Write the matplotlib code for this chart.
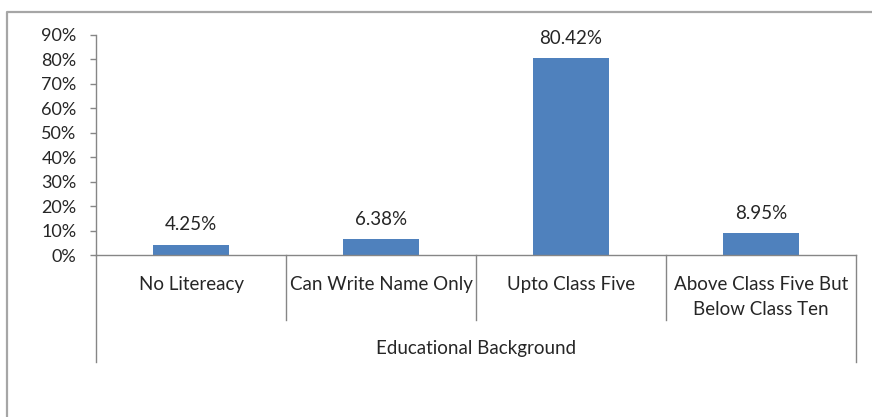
import matplotlib
matplotlib.use("Agg")
import matplotlib.pyplot as plt
from matplotlib.lines import Line2D
from matplotlib.ticker import PercentFormatter
import numpy as np

categories = ["No Litereacy", "Can Write Name Only", "Upto Class Five",
              "Above Class Five But\nBelow Class Ten"]
shares = [4.25, 6.38, 80.42, 8.95]
group_label = "Educational Background"
yticks = [0, 10, 20, 30, 40, 50, 60, 70, 80, 90]

plt.rcParams['font.family'] = ['Lato', 'DejaVu Sans']
plt.rcParams['font.size'] = 13.5
text_color = "#262626"
axis_color = "#868686"
bar_color = "#4F81BD"

W, H = 872, 417
fig = plt.figure(figsize=(W / 100, H / 100), dpi=100)
ax = fig.add_axes([96 / W, 1 - 255 / H, (856 - 96) / W, (255 - 35) / H])

x = np.arange(len(categories))
bars = ax.bar(x, shares, width=0.4, color=bar_color, zorder=2)
for b, v in zip(bars, shares):
    ax.annotate(f"{v:.2f}%", (b.get_x() + b.get_width() / 2, v),
                xytext=(0, 8), textcoords="offset points",
                ha="center", va="bottom", color=text_color)

ax.set_xlim(-0.5, len(categories) - 0.5)
ax.set_ylim(0, 90)
ax.set_yticks(yticks)
ax.yaxis.set_major_formatter(PercentFormatter(decimals=0))
ax.tick_params(axis="y", length=4, width=1, color=axis_color, pad=10,
               labelcolor=text_color, labelsize=13)
ax.set_xticks([])
for side in ("top", "right"):
    ax.spines[side].set_visible(False)
for side in ("left", "bottom"):
    ax.spines[side].set_color(axis_color)
    ax.spines[side].set_linewidth(1)

# multi-level category axis: separators, labels, group label
trans = ax.get_xaxis_transform()
n = len(categories)
for i in range(n + 1):
    bottom = -0.486 if i in (0, n) else -0.295
    ax.add_line(Line2D([i - 0.5, i - 0.5], [0, bottom], transform=trans,
                       color=axis_color, lw=1, clip_on=False))
for i, lab in enumerate(categories):
    ax.text(i, -0.095, lab, transform=trans, ha="center", va="top",
            color=text_color, linespacing=1.55)
ax.text((n - 1) / 2, -0.423, group_label, transform=trans,
        ha="center", va="center", color=text_color)

# chart frame (only left and top edges fall inside the canvas)
fig.add_artist(Line2D([7 / W, 7 / W, 1.0], [0, 1 - 12 / H, 1 - 12 / H],
                      transform=fig.transFigure, color="#A6A6A6", lw=1.6))

fig.savefig("out.png", dpi=100)
